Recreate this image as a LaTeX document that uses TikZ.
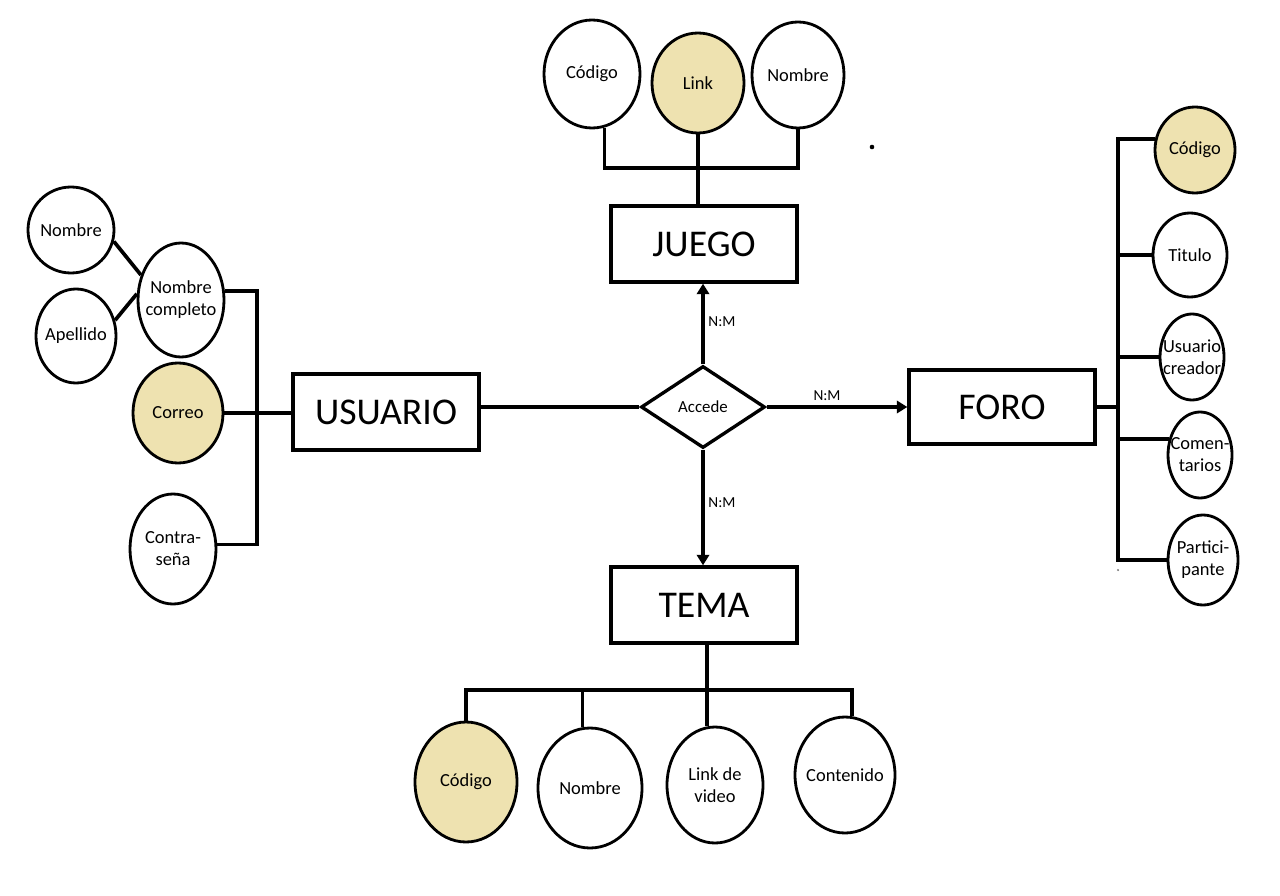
\documentclass[tikz,border=0pt]{standalone}
\usepackage{fontspec}
\setmainfont{Carlito}
\usetikzlibrary{shapes.geometric,arrows.meta}
\definecolor{keyfill}{RGB}{238,226,176}
\tikzset{
  attr/.style 2 args={ellipse, draw, line width=1.6pt, inner sep=0pt,
     minimum width=#1*0.02cm, minimum height=#2*0.02cm},
  keyattr/.style 2 args={attr={#1}{#2}, fill=keyfill},
  lbl/.style={font=\fontsize{10.5}{12.5}\selectfont, align=center, inner sep=0pt},
  entity/.style={rectangle, draw, line width=1.9pt, inner sep=0pt,
     minimum width=186*0.02cm, minimum height=76*0.02cm,
     font=\fontsize{21.5}{24}\selectfont},
  rel/.style={diamond, draw, line width=1.9pt, inner sep=0pt, aspect=1.5,
     minimum width=124*0.02cm, minimum height=82*0.02cm,
     font=\fontsize{9.6}{11}\selectfont},
  link/.style={line width=2.1pt},
  arr/.style={link, -{Triangle[width=7pt,length=6pt]}},
  card/.style={font=\fontsize{8.7}{10}\selectfont, inner sep=0pt}
}
\begin{document}
\begin{tikzpicture}[x=0.02cm, y=-0.02cm]
\useasboundingbox[fill=white] (0,0) rectangle (1280,895);

% entities and relationship
\node[entity] (juego) at (704,244) {JUEGO};
\node[entity] (usuario) at (386,412) {USUARIO};
\node[entity, minimum height=74*0.02cm] (foro) at (1002,407) {FORO};
\node[entity] (tema) at (704,605) {TEMA};
\node[rel] (accede) at (703,407) {Accede};

% relationship connectors
\draw[link] (usuario.east |- accede.west) -- (accede.west);
\draw[arr] (accede.north) -- (accede.north |- juego.south);
\draw[arr] (accede.east) -- (foro.west |- accede.east);
\draw[arr] (accede.south) -- (accede.south |- tema.north);
\node[card] (c1) at (722,322) {N:M};
\node[card] (c2) at (827,396) {N:M};
\node[card] (c3) at (722,503) {N:M};

% JUEGO attributes
\node[attr={96}{108}, label={[lbl]center:Código}] (jcod) at (592,74) {};
\node[keyattr={92}{100}, label={[lbl]center:Link}] (jlink) at (698,83) {};
\node[attr={92}{106}, label={[lbl]center:Nombre}] (jnom) at (798,75) {};
\coordinate (jbar) at (700,168);
\draw[link] (jcod.-77) -- (jcod.-77 |- jbar) -- (jnom.south |- jbar) -- (jnom.south);
\draw[link] (jlink.south) -- (jlink.south |- juego.north);
\fill (872,147) circle[radius=1.3pt];

% USUARIO attributes
\node[attr={86}{86}, label={[lbl]center:Nombre}] (unom) at (71,230) {};
\node[attr={80}{94}, label={[lbl]center:Apellido}] (uape) at (76,336) {};
\node[attr={86}{114}, label={[lbl]center:Nombre\\completo}] (unc) at (181,300) {};
\node[keyattr={90}{100}, label={[lbl]center:Correo}] (ucor) at (178,413) {};
\node[attr={86}{110}, label={[lbl]center:Contra-\\seña}] (ucon) at (173,549) {};
\draw[link] (unom.-15) -- (unc.148);
\draw[link] (uape.22) -- (unc.172);
\coordinate (ubar) at (257,292);
\draw[link] (unc.12) -- (unc.12 -| ubar) -- (ubar |- ucon.6) -- (ucon.6);
\draw[link] (ucor.east) -- (ucor.east -| usuario.west);

% FORO attributes
\node[keyattr={80}{86}, label={[lbl]center:Código}] (fcod) at (1195,150) {};
\node[attr={74}{84}, label={[lbl]center:Titulo}] (ftit) at (1190,255) {};
\node[attr={64}{86}, label={[lbl]center:Usuario\\creador}] (fusu) at (1192,357) {};
\node[attr={64}{86}, label={[lbl]center:Comen-\\tarios}] (fcom) at (1200,455) {};
\node[attr={70}{90}, label={[lbl]center:Partici-\\pante}] (fpar) at (1203,560) {};
\coordinate (fbar) at (1118,138);
\draw[link] (fcod.165) -- (fcod.165 -| fbar) -- (fbar |- fpar.west) -- (fpar.west);
\draw[link] (foro.east) -- (foro.east -| fbar);
\draw[link] (ftit.west) -- (ftit.west -| fbar);
\draw[link] (fusu.west) -- (fusu.west -| fbar);
\draw[link] (fcom.153) -- (fcom.153 -| fbar);
\fill[gray] (1118,570) circle[radius=0.7pt];

% TEMA attributes
\node[keyattr={102}{120}, label={[lbl]center:Código}] (tcod) at (466,782) {};
\node[attr={104}{120}, label={[lbl]center:Nombre}] (tnom) at (590,788) {};
\node[attr={96}{116}, label={[lbl]center:Link de\\video}] (tlink) at (715,785) {};
\node[attr={100}{116}, label={[lbl]center:Contenido}] (tcont) at (845,775) {};
\coordinate (tbar) at (700,690);
\draw[link] (tlink.98 |- tema.south) -- (tlink.98);
\draw[link] (tcod.north) -- (tcod.north |- tbar) -- (tcont.83 |- tbar) -- (tcont.83);
\draw[link] (tnom.97 |- tbar) -- (tnom.97);
\end{tikzpicture}
\end{document}
